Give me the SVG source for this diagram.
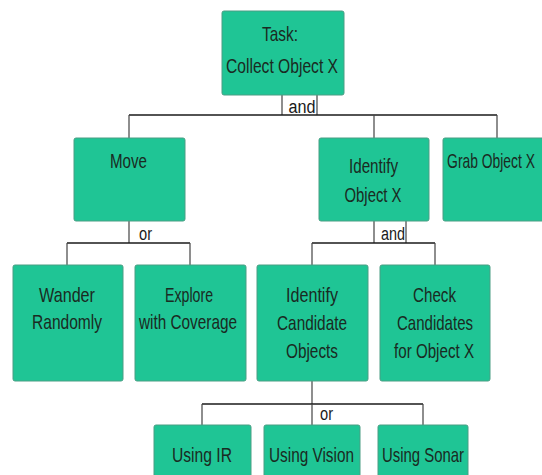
<svg xmlns="http://www.w3.org/2000/svg" width="542" height="475" viewBox="0 0 542 475">
<style>
.box{fill:#1fc595;stroke:#4a9e84;stroke-width:1}
.t{font-family:"Liberation Sans Narrow","Liberation Sans",Arial,sans-serif;font-size:21px;fill:#1a2a22;text-anchor:middle}
.l{font-family:"Liberation Sans Narrow","Liberation Sans",Arial,sans-serif;font-size:18px;fill:#1a1a1a;text-anchor:middle}
.c{stroke:#1a1a1a;stroke-width:1.5;fill:none}
.v{stroke:#444;stroke-width:1.2;fill:none}
</style>
<rect width="542" height="475" fill="#ffffff"/>
<g id="connectors">
<path class="v" d="M282,95V115M317,95V115"/>
<path class="c" d="M129,115H497"/>
<path class="v" d="M129,115V138M374,115V138M497,115V138"/>
<path class="v" d="M129,221V243"/>
<path class="c" d="M67,243H190"/>
<path class="v" d="M67,243V265M190,243V265"/>
<path class="v" d="M374,221V243M406,221V243"/>
<path class="c" d="M312,243H435"/>
<path class="v" d="M312,243V265M435,243V265"/>
<path class="v" d="M312,381V404"/>
<path class="c" d="M202,404H423"/>
<path class="v" d="M202,404V425M312,404V425M423,404V425"/>
<text class="l" x="302" y="113" textLength="27" lengthAdjust="spacingAndGlyphs">and</text>
<text class="l" x="145.5" y="240" textLength="13" lengthAdjust="spacingAndGlyphs">or</text>
<text class="l" x="393" y="240" textLength="24" lengthAdjust="spacingAndGlyphs">and</text>
<text class="l" x="326.5" y="420" textLength="13" lengthAdjust="spacingAndGlyphs">or</text>
</g>
<g id="task">
<rect class="box" x="222" y="11" width="122" height="84" rx="2"/>
<text class="t" x="280" y="41" textLength="36" lengthAdjust="spacingAndGlyphs">Task:</text>
<text class="t" x="282" y="73" textLength="112" lengthAdjust="spacingAndGlyphs">Collect Object X</text>
</g>
<g id="move">
<rect class="box" x="74" y="138" width="111" height="83" rx="2"/>
<text class="t" x="128.5" y="168" textLength="37" lengthAdjust="spacingAndGlyphs">Move</text>
</g>
<g id="identify">
<rect class="box" x="319" y="138" width="110" height="83" rx="2"/>
<text class="t" x="373.5" y="173" textLength="49" lengthAdjust="spacingAndGlyphs">Identify</text>
<text class="t" x="373" y="202" textLength="57" lengthAdjust="spacingAndGlyphs">Object X</text>
</g>
<g id="grab">
<rect class="box" x="443" y="138" width="110" height="83" rx="2"/>
<text class="t" transform="translate(491,168) scale(0.66,1)" x="0" y="0">Grab Object X</text>
</g>
<g id="wander">
<rect class="box" x="13" y="265" width="110" height="116" rx="2"/>
<text class="t" x="67" y="302" textLength="56" lengthAdjust="spacingAndGlyphs">Wander</text>
<text class="t" x="67" y="329" textLength="70" lengthAdjust="spacingAndGlyphs">Randomly</text>
</g>
<g id="explore">
<rect class="box" x="135" y="265" width="111" height="116" rx="2"/>
<text class="t" x="189" y="302" textLength="48" lengthAdjust="spacingAndGlyphs">Explore</text>
<text class="t" x="188" y="329" textLength="98" lengthAdjust="spacingAndGlyphs">with Coverage</text>
</g>
<g id="identify-candidates">
<rect class="box" x="257" y="265" width="111" height="116" rx="2"/>
<text class="t" x="312" y="302" textLength="52" lengthAdjust="spacingAndGlyphs">Identify</text>
<text class="t" x="312" y="330" textLength="70" lengthAdjust="spacingAndGlyphs">Candidate</text>
<text class="t" x="312" y="358" textLength="52" lengthAdjust="spacingAndGlyphs">Objects</text>
</g>
<g id="check-candidates">
<rect class="box" x="380" y="265" width="110" height="116" rx="2"/>
<text class="t" x="434.5" y="302" textLength="43" lengthAdjust="spacingAndGlyphs">Check</text>
<text class="t" x="435" y="330" textLength="76" lengthAdjust="spacingAndGlyphs">Candidates</text>
<text class="t" x="434" y="358" textLength="80" lengthAdjust="spacingAndGlyphs">for Object X</text>
</g>
<g id="using-ir">
<rect class="box" x="154" y="425" width="97" height="60" rx="2"/>
<text class="t" x="202" y="462" textLength="60" lengthAdjust="spacingAndGlyphs">Using IR</text>
</g>
<g id="using-vision">
<rect class="box" x="264" y="425" width="96" height="60" rx="2"/>
<text class="t" x="311.5" y="462" textLength="85" lengthAdjust="spacingAndGlyphs">Using Vision</text>
</g>
<g id="using-sonar">
<rect class="box" x="378" y="425" width="90" height="60" rx="2"/>
<text class="t" x="423" y="462" textLength="82" lengthAdjust="spacingAndGlyphs">Using Sonar</text>
</g>
</svg>
